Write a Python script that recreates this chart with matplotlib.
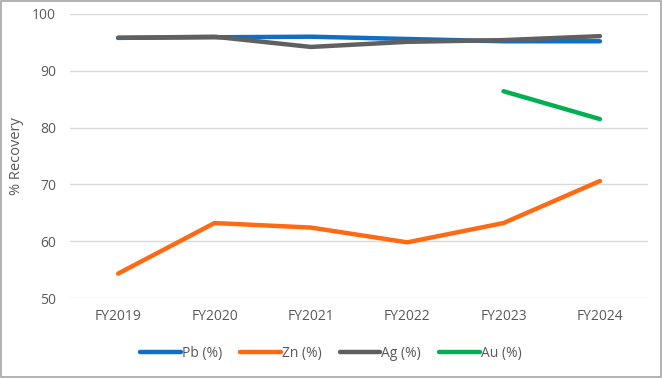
import matplotlib.pyplot as plt
from matplotlib.patches import Rectangle

plt.rcParams['font.family'] = ['Open Sans', 'DejaVu Sans']

years = ['FY2019', 'FY2020', 'FY2021', 'FY2022', 'FY2023', 'FY2024']
pb = [95.8, 95.9, 96.0, 95.6, 95.2, 95.2]
zn = [54.3, 63.2, 62.4, 59.8, 63.2, 70.6]
ag = [95.8, 96.0, 94.2, 95.1, 95.4, 96.1]
au_years = ['FY2023', 'FY2024']
au = [86.4, 81.5]

txt = '#595959'

fig = plt.figure(figsize=(6.62, 3.78), dpi=100)
ax = fig.add_axes([0.1057, 0.2116, 0.8733, 0.7514])

x = list(range(len(years)))
ax.plot(x, pb, color='#0F6FC6', lw=3.2, label='Pb (%)', solid_capstyle='round', zorder=3)
ax.plot(x, zn, color='#FF6A13', lw=3.2, label='Zn (%)', solid_capstyle='round', zorder=3)
ax.plot(x, ag, color='#606060', lw=3.2, label='Ag (%)', solid_capstyle='round', zorder=4)
ax.plot([years.index(y) for y in au_years], au, color='#00B050', lw=3.2,
        label='Au (%)', solid_capstyle='round', zorder=3)

ax.set_xlim(-0.5, len(years) - 0.5)
ax.set_ylim(50, 100)
ax.set_yticks(range(50, 101, 10))
ax.set_xticks(x)
ax.set_xticklabels(years)
ax.grid(axis='y', color='#D9D9D9', lw=1)
ax.set_axisbelow(True)
for s in ax.spines.values():
    s.set_visible(False)
ax.tick_params(length=0, colors=txt, labelsize=10, pad=8)
ax.tick_params(axis='y', pad=10)
ax.set_ylabel('% Recovery', color=txt, fontsize=10.5, labelpad=6)

fig.legend(loc='center', bbox_to_anchor=(0.5, 0.066), ncol=4, frameon=False,
           fontsize=10, handlelength=2.9, handletextpad=0.1, columnspacing=1.3,
           labelcolor=txt)

fig.patches.append(Rectangle((0.001, 0.002), 0.997, 0.995, transform=fig.transFigure,
                             fill=False, edgecolor='#A6A6A6', lw=1.2))

fig.savefig('out.png', dpi=100)
